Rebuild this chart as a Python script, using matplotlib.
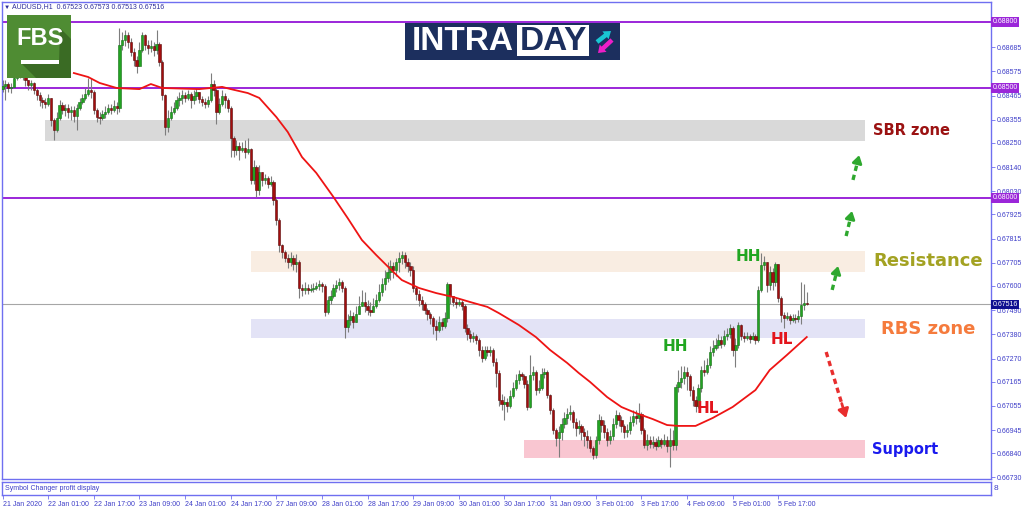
"""
AUDUSD H1 intraday chart (MT4 style) with SBR/RBS zones and MA.
Output: out.png (1024x511)
"""
import numpy as np
import matplotlib
matplotlib.use("Agg")
import matplotlib.pyplot as plt
from matplotlib import patches

plt.rcParams["font.family"] = ["Liberation Sans", "DejaVu Sans"]

# ---- data -------------------------------------------------------------
first_open = 0.68495

closes = [
    0.68509, 0.68518, 0.68500, 0.68505, 0.68545, 0.68564, 0.68573, 0.68555, 0.68536, 0.68514,
    0.68523, 0.68491, 0.68468, 0.68445, 0.68436, 0.68427, 0.68455, 0.68355, 0.68309, 0.68364,
    0.68423, 0.68400, 0.68409, 0.68391, 0.68400, 0.68373, 0.68409, 0.68436, 0.68455, 0.68473,
    0.68491, 0.68482, 0.68400, 0.68368, 0.68364, 0.68382, 0.68391, 0.68409, 0.68400, 0.68418,
    0.68409, 0.68695, 0.68718, 0.68741, 0.68709, 0.68664, 0.68627, 0.68600, 0.68673, 0.68741,
    0.68695, 0.68682, 0.68691, 0.68673, 0.68700, 0.68618, 0.68468, 0.68323, 0.68364, 0.68391,
    0.68409, 0.68445, 0.68455, 0.68468, 0.68455, 0.68473, 0.68445, 0.68464, 0.68482, 0.68450,
    0.68436, 0.68427, 0.68445, 0.68518, 0.68491, 0.68391, 0.68427, 0.68464, 0.68445, 0.68409,
    0.68273, 0.68218, 0.68236, 0.68218, 0.68227, 0.68209, 0.68223, 0.68082, 0.68141, 0.68036,
    0.68118, 0.68082, 0.68091, 0.68064, 0.68073, 0.67991, 0.67900, 0.67786, 0.67755, 0.67727,
    0.67709, 0.67727, 0.67700, 0.67709, 0.67591, 0.67582, 0.67591, 0.67582, 0.67586, 0.67591,
    0.67600, 0.67609, 0.67600, 0.67482, 0.67536, 0.67555, 0.67591, 0.67605, 0.67618, 0.67591,
    0.67414, 0.67445, 0.67464, 0.67436, 0.67473, 0.67509, 0.67527, 0.67509, 0.67491, 0.67482,
    0.67509, 0.67536, 0.67573, 0.67609, 0.67636, 0.67664, 0.67691, 0.67673, 0.67709, 0.67727,
    0.67741, 0.67709, 0.67691, 0.67673, 0.67591, 0.67564, 0.67536, 0.67518, 0.67491, 0.67473,
    0.67455, 0.67418, 0.67400, 0.67436, 0.67418, 0.67455, 0.67609, 0.67555, 0.67527, 0.67518,
    0.67527, 0.67509, 0.67409, 0.67382, 0.67364, 0.67373, 0.67355, 0.67309, 0.67273, 0.67309,
    0.67300, 0.67309, 0.67255, 0.67205, 0.67082, 0.67064, 0.67073, 0.67055, 0.67100, 0.67136,
    0.67173, 0.67200, 0.67191, 0.67155, 0.67050, 0.67195, 0.67209, 0.67127, 0.67136, 0.67200,
    0.67209, 0.67105, 0.67036, 0.66945, 0.66909, 0.66936, 0.66973, 0.67000, 0.67018, 0.67027,
    0.66982, 0.66955, 0.66964, 0.66936, 0.66918, 0.66900, 0.66864, 0.66832, 0.66900, 0.66991,
    0.66968, 0.66936, 0.66900, 0.66918, 0.66973, 0.67014, 0.66991, 0.66964, 0.66936, 0.66945,
    0.66982, 0.67009, 0.67000, 0.67018, 0.66945, 0.66877, 0.66900, 0.66882, 0.66891, 0.66873,
    0.66900, 0.66882, 0.66900, 0.66873, 0.66900, 0.66877, 0.67141, 0.67164, 0.67182, 0.67209,
    0.67191, 0.67127, 0.67082, 0.67055, 0.67136, 0.67218, 0.67209, 0.67241, 0.67300, 0.67318,
    0.67332, 0.67355, 0.67336, 0.67373, 0.67382, 0.67409, 0.67309, 0.67332, 0.67423, 0.67373,
    0.67364, 0.67373, 0.67359, 0.67373, 0.67355, 0.67582, 0.67695, 0.67709, 0.67605, 0.67664,
    0.67618, 0.67700, 0.67545, 0.67468, 0.67455, 0.67464, 0.67445, 0.67455, 0.67450, 0.67464,
    0.67514, 0.67523, 0.67516,
]

highs = [
    0.68536, 0.68536, 0.68527, 0.68523, 0.68582, 0.68591, 0.68600, 0.68582, 0.68564, 0.68536,
    0.68536, 0.68527, 0.68500, 0.68482, 0.68459, 0.68455, 0.68473, 0.68455, 0.68364, 0.68391,
    0.68445, 0.68436, 0.68427, 0.68427, 0.68418, 0.68418, 0.68427, 0.68455, 0.68473, 0.68500,
    0.68545, 0.68545, 0.68491, 0.68409, 0.68391, 0.68400, 0.68418, 0.68427, 0.68427, 0.68445,
    0.68436, 0.68773, 0.68755, 0.68764, 0.68755, 0.68727, 0.68682, 0.68645, 0.68709, 0.68755,
    0.68745, 0.68718, 0.68718, 0.68709, 0.68764, 0.68709, 0.68627, 0.68473, 0.68400, 0.68418,
    0.68436, 0.68464, 0.68482, 0.68491, 0.68482, 0.68491, 0.68482, 0.68491, 0.68500, 0.68482,
    0.68464, 0.68455, 0.68464, 0.68568, 0.68536, 0.68500, 0.68455, 0.68491, 0.68477, 0.68455,
    0.68418, 0.68282, 0.68264, 0.68255, 0.68255, 0.68264, 0.68273, 0.68227, 0.68173, 0.68150,
    0.68150, 0.68118, 0.68109, 0.68100, 0.68100, 0.68082, 0.68000, 0.67909, 0.67791, 0.67764,
    0.67745, 0.67755, 0.67741, 0.67745, 0.67718, 0.67609, 0.67618, 0.67609, 0.67609, 0.67614,
    0.67618, 0.67627, 0.67618, 0.67609, 0.67555, 0.67582, 0.67609, 0.67627, 0.67636, 0.67627,
    0.67600, 0.67473, 0.67491, 0.67482, 0.67509, 0.67555, 0.67582, 0.67573, 0.67536, 0.67527,
    0.67545, 0.67564, 0.67609, 0.67636, 0.67673, 0.67709, 0.67718, 0.67709, 0.67727, 0.67755,
    0.67759, 0.67755, 0.67727, 0.67709, 0.67691, 0.67600, 0.67582, 0.67555, 0.67527, 0.67500,
    0.67482, 0.67464, 0.67445, 0.67464, 0.67455, 0.67482, 0.67618, 0.67609, 0.67555, 0.67545,
    0.67545, 0.67536, 0.67518, 0.67427, 0.67400, 0.67391, 0.67382, 0.67364, 0.67327, 0.67327,
    0.67327, 0.67327, 0.67318, 0.67273, 0.67218, 0.67109, 0.67100, 0.67091, 0.67127, 0.67164,
    0.67200, 0.67218, 0.67209, 0.67200, 0.67173, 0.67286, 0.67236, 0.67218, 0.67173, 0.67227,
    0.67227, 0.67218, 0.67109, 0.67045, 0.66955, 0.66964, 0.67000, 0.67027, 0.67045, 0.67059,
    0.67036, 0.67000, 0.66991, 0.66973, 0.66955, 0.66945, 0.66918, 0.66873, 0.66918, 0.67018,
    0.67009, 0.66991, 0.66955, 0.66945, 0.67000, 0.67036, 0.67027, 0.67009, 0.66973, 0.66973,
    0.67009, 0.67036, 0.67036, 0.67068, 0.67027, 0.66955, 0.66927, 0.66918, 0.66918, 0.66909,
    0.66918, 0.66909, 0.66927, 0.66918, 0.66955, 0.66945, 0.67155, 0.67218, 0.67236, 0.67236,
    0.67232, 0.67200, 0.67145, 0.67100, 0.67155, 0.67236, 0.67264, 0.67273, 0.67327, 0.67355,
    0.67364, 0.67382, 0.67373, 0.67400, 0.67409, 0.67427, 0.67418, 0.67364, 0.67436, 0.67427,
    0.67391, 0.67391, 0.67382, 0.67391, 0.67382, 0.67600, 0.67750, 0.67736, 0.67709, 0.67691,
    0.67682, 0.67709, 0.67700, 0.67555, 0.67482, 0.67482, 0.67473, 0.67473, 0.67473, 0.67491,
    0.67618, 0.67609, 0.67573,
]

lows = [
    0.68482, 0.68445, 0.68482, 0.68477, 0.68518, 0.68536, 0.68545, 0.68536, 0.68509, 0.68491,
    0.68491, 0.68473, 0.68445, 0.68418, 0.68409, 0.68409, 0.68418, 0.68327, 0.68264, 0.68300,
    0.68355, 0.68382, 0.68373, 0.68364, 0.68355, 0.68345, 0.68309, 0.68400, 0.68427, 0.68445,
    0.68464, 0.68455, 0.68382, 0.68345, 0.68336, 0.68355, 0.68364, 0.68382, 0.68382, 0.68391,
    0.68382, 0.68391, 0.68673, 0.68691, 0.68682, 0.68645, 0.68600, 0.68568, 0.68600, 0.68664,
    0.68673, 0.68655, 0.68664, 0.68645, 0.68655, 0.68600, 0.68445, 0.68286, 0.68300, 0.68355,
    0.68382, 0.68400, 0.68418, 0.68427, 0.68436, 0.68445, 0.68409, 0.68427, 0.68445, 0.68432,
    0.68418, 0.68409, 0.68414, 0.68436, 0.68464, 0.68336, 0.68382, 0.68418, 0.68409, 0.68391,
    0.68186, 0.68186, 0.68195, 0.68173, 0.68209, 0.68182, 0.68200, 0.68064, 0.68064, 0.68005,
    0.68014, 0.68055, 0.68064, 0.68045, 0.68055, 0.67968, 0.67877, 0.67755, 0.67727, 0.67709,
    0.67682, 0.67691, 0.67673, 0.67664, 0.67545, 0.67555, 0.67564, 0.67564, 0.67573, 0.67573,
    0.67582, 0.67582, 0.67573, 0.67464, 0.67473, 0.67518, 0.67545, 0.67573, 0.67582, 0.67573,
    0.67364, 0.67391, 0.67423, 0.67409, 0.67436, 0.67482, 0.67509, 0.67482, 0.67468, 0.67464,
    0.67482, 0.67500, 0.67527, 0.67555, 0.67582, 0.67618, 0.67627, 0.67636, 0.67645, 0.67664,
    0.67700, 0.67682, 0.67664, 0.67645, 0.67573, 0.67536, 0.67509, 0.67491, 0.67473, 0.67445,
    0.67427, 0.67382, 0.67355, 0.67391, 0.67400, 0.67409, 0.67436, 0.67518, 0.67509, 0.67500,
    0.67509, 0.67491, 0.67391, 0.67355, 0.67345, 0.67345, 0.67336, 0.67282, 0.67255, 0.67264,
    0.67282, 0.67282, 0.67236, 0.67141, 0.67055, 0.67036, 0.66991, 0.67027, 0.67045, 0.67091,
    0.67127, 0.67155, 0.67173, 0.67136, 0.67036, 0.67045, 0.67173, 0.67105, 0.67114, 0.67127,
    0.67182, 0.67091, 0.67018, 0.66927, 0.66873, 0.66823, 0.66900, 0.66955, 0.66973, 0.66991,
    0.66955, 0.66918, 0.66927, 0.66900, 0.66873, 0.66864, 0.66845, 0.66814, 0.66818, 0.66882,
    0.66936, 0.66909, 0.66873, 0.66882, 0.66900, 0.66955, 0.66964, 0.66936, 0.66909, 0.66914,
    0.66927, 0.66964, 0.66973, 0.66982, 0.66927, 0.66864, 0.66855, 0.66864, 0.66864, 0.66855,
    0.66868, 0.66864, 0.66873, 0.66845, 0.66777, 0.66855, 0.66855, 0.67118, 0.67136, 0.67155,
    0.67127, 0.67100, 0.67055, 0.67027, 0.67045, 0.67118, 0.67191, 0.67200, 0.67227, 0.67282,
    0.67309, 0.67318, 0.67318, 0.67327, 0.67355, 0.67364, 0.67282, 0.67232, 0.67318, 0.67355,
    0.67345, 0.67355, 0.67341, 0.67355, 0.67336, 0.67345, 0.67573, 0.67673, 0.67573, 0.67582,
    0.67582, 0.67600, 0.67527, 0.67436, 0.67409, 0.67445, 0.67427, 0.67436, 0.67432, 0.67436,
    0.67427, 0.67491, 0.67513,
]

# moving average (bar index -> value)
ma_idx = [25, 30, 34, 40, 48, 52, 56, 69, 77, 80, 86, 90, 96, 100, 105, 110, 116, 121,
          126, 131, 137, 140, 146, 152, 158, 164, 170, 174, 181, 187, 192, 198, 202, 206,
          212, 217, 222, 228, 233, 237, 243, 249, 256, 264, 269, 275, 282]
ma_vals = [0.68568, 0.68550, 0.68523, 0.68500, 0.68495, 0.68518, 0.68500, 0.68495, 0.68505,
           0.68495, 0.68477, 0.68455, 0.68368, 0.68300, 0.68186, 0.68114, 0.68005, 0.67909,
           0.67809, 0.67741, 0.67664, 0.67627, 0.67591, 0.67568, 0.67550, 0.67527, 0.67505,
           0.67477, 0.67423, 0.67368, 0.67309, 0.67250, 0.67205, 0.67164, 0.67095, 0.67050,
           0.67023, 0.66995, 0.66968, 0.66964, 0.66964, 0.67000, 0.67050, 0.67127, 0.67218,
           0.67286, 0.67368]

date_labels = ["21 Jan 2020", "22 Jan 01:00", "22 Jan 17:00", "23 Jan 09:00", "24 Jan 01:00",
               "24 Jan 17:00", "27 Jan 09:00", "28 Jan 01:00", "28 Jan 17:00", "29 Jan 09:00",
               "30 Jan 01:00", "30 Jan 17:00", "31 Jan 09:00", "3 Feb 01:00", "3 Feb 17:00",
               "4 Feb 09:00", "5 Feb 01:00", "5 Feb 17:00"]

price_ticks = [0.68685, 0.68575, 0.68465, 0.68355, 0.68250, 0.68140, 0.68030,
               0.67925, 0.67815, 0.67705, 0.67600, 0.67490, 0.67380, 0.67270, 0.67165,
               0.67055, 0.66945, 0.66840, 0.66730]

level_lines = [0.68800, 0.68500, 0.68000]
last_price = 0.67516

zone_names = ["SBR zone", "Resistance", "RBS zone", "Support"]
zone_low = [0.68259, 0.67664, 0.67364, 0.66818]
zone_high = [0.68355, 0.67759, 0.67450, 0.66900]
zone_start = [15, 87, 87, 183]

# ---- figure -----------------------------------------------------------
W, H = 1024, 511


def frect(x0, y0, x1, y1):
    return [x0 / W, 1 - y1 / H, (x1 - x0) / W, (y1 - y0) / H]


fig = plt.figure(figsize=(W / 100, H / 100), dpi=100)
ax = fig.add_axes(frect(2, 2, 991, 479))
sub = fig.add_axes(frect(2, 482, 991, 495))

closes = np.array(closes)
highs = np.array(highs)
lows = np.array(lows)
opens = np.r_[first_open, closes[:-1]]
highs = np.maximum(highs, np.maximum(opens, closes))
lows = np.minimum(lows, np.minimum(opens, closes))
x = np.arange(len(closes))

XLIM = (-0.2, 346.6)
ax.set_xlim(*XLIM)
ax.set_ylim(0.667227, 0.688909)

# zones
zone_colors = ["#d9d9d9", "#f9ede2", "#e3e3f6", "#f9c6d1"]
zone_right = 302.4
for lo, hi, x0, c in zip(zone_low, zone_high, zone_start, zone_colors):
    ax.fill_between([x0, zone_right], lo, hi, color=c, lw=0, zorder=1)

# levels
for v in level_lines:
    ax.axhline(v, color="#9b26d9", lw=1.4, zorder=2)
ax.axhline(last_price, color="#a6a6a6", lw=0.8, zorder=2)

# candles
ax.vlines(x, lows, highs, color="#7d7d7d", lw=0.8, zorder=3)
up = closes >= opens
body = closes - opens
ax.bar(x[up], np.maximum(body[up], 0.000012), bottom=opens[up], width=0.8,
       color="#22a322", edgecolor="#146e14", lw=0.4, zorder=4)
ax.bar(x[~up], body[~up], bottom=opens[~up], width=0.8,
       color="#a30d0d", edgecolor="#5a0a0a", lw=0.4, zorder=4)

# moving average
ax.plot(ma_idx, ma_vals, color="#ee1414", lw=1.3, zorder=5)

# zone labels
zone_text = [(318.8, 0.68309, "#9b1212", 10.5), (324.5, 0.67714, "#a3a222", 13),
             (324.5, 0.67405, "#f57b3d", 13), (316.5, 0.66859, "#1a1aee", 10.5)]
for name, (xt, yt, c, fs) in zip(zone_names, zone_text):
    ax.text(xt, yt, name, color=c, fontsize=fs, fontweight="bold", family="DejaVu Sans",
            ha="center", va="center", zorder=6)

# swing labels
for xi, yi, t, c in [(235.8, 0.67323, "HH", "#21a621"), (261.4, 0.67732, "HH", "#21a621"),
                     (247.4, 0.67045, "HL", "#e3141c"), (273.3, 0.67359, "HL", "#e3141c")]:
    ax.text(xi, yi, t, color=c, fontsize=11, fontweight="bold", family="DejaVu Sans",
            ha="center", va="center", zorder=6)


# dashed arrows
def dashed_arrow(x0, y0, x1, y1, color, hw=0.3):
    fx = x0 + (x1 - x0) * 0.78
    fy = y0 + (y1 - y0) * 0.78
    ax.plot([x0, fx], [y0, fy], color=color, lw=2.4, ls=(0, (1.6, 1.2)), zorder=6,
            solid_capstyle="butt")
    ax.annotate("", xy=(x1, y1), xytext=(fx, fy),
                arrowprops=dict(arrowstyle=f"-|>,head_width={hw},head_length={hw * 1.6}",
                                color=color, lw=2.0, shrinkA=0, shrinkB=0), zorder=6)


dashed_arrow(290.9, 0.67582, 293.0, 0.67691, "#2ea82e", 0.28)
dashed_arrow(295.8, 0.67827, 297.9, 0.67941, "#2ea82e", 0.28)
dashed_arrow(298.2, 0.68082, 300.4, 0.68195, "#2ea82e", 0.28)
dashed_arrow(288.8, 0.67300, 295.8, 0.67000, "#e82e2e", 0.32)

# axes styling
axis_c = "#6f6ff0"
lab_c = "#3d3dc8"
for a in (ax, sub):
    for s in a.spines.values():
        s.set_color(axis_c)
        s.set_linewidth(1.0)
ax.set_xticks([])
ax.yaxis.tick_right()
ax.set_yticks(price_ticks)
ax.set_yticklabels([f"{v:.5f}" for v in price_ticks])
ax.tick_params(axis="y", direction="out", length=3, width=0.6, pad=1, labelsize=5,
               colors=axis_c, labelcolor=lab_c)

for v, fc in [(0.68800, "#9b26d9"), (0.68500, "#9b26d9"), (0.68000, "#9b26d9"),
              (last_price, "#101090")]:
    ax.text(1.0015, v, f"{v:.5f}", transform=ax.get_yaxis_transform(), ha="left",
            va="center", fontsize=5, color="white", clip_on=False, zorder=10,
            bbox=dict(boxstyle="square,pad=0.18", fc=fc, ec="none"))

sub.set_xlim(*XLIM)
sub.set_ylim(0, 1)
sub.set_yticks([])
sub.set_xticks(np.arange(len(date_labels)) * 16)
sub.set_xticklabels(date_labels, ha="left")
sub.tick_params(axis="x", direction="out", length=3, width=0.6, pad=1.5, labelsize=5,
                colors=axis_c, labelcolor=lab_c)
sub.text(0.003, 0.5, "Symbol Changer profit display", transform=sub.transAxes,
         fontsize=5, color=lab_c, va="center", ha="left")
sub.text(1.003, 0.5, "8", transform=sub.transAxes, fontsize=6, color=lab_c,
         va="center", ha="left")

# header
fig.text(4 / W, 1 - 7 / H, "\u25bc", fontsize=4.5, color="#2b2b9a", va="center")
fig.text(12 / W, 1 - 7 / H, "AUDUSD,H1  0.67523 0.67573 0.67513 0.67516", fontsize=5,
         color="#2b2b9a", va="center")

# FBS logo
lg = fig.add_axes(frect(7, 15, 71, 78))
lg.set_xlim(0, 64)
lg.set_ylim(63, 0)
lg.axis("off")
lg.add_patch(patches.Rectangle((0, 0), 64, 63, fc="#4f8c33", ec="none"))
lg.add_patch(patches.Polygon([(53, 13), (64, 24), (64, 63), (29, 63), (15, 49), (52, 49)],
                             fc="#3a6b24", ec="none"))
lg.text(33.5, 23, "FBS", color="white", fontsize=17, fontweight="bold",
        ha="center", va="center")
lg.add_patch(patches.Rectangle((14, 45), 38, 4, fc="white", ec="none"))

# INTRADAY logo
it = fig.add_axes(frect(405, 23, 620, 60))
it.set_xlim(0, 215)
it.set_ylim(37, 0)
it.axis("off")
it.add_patch(patches.Rectangle((0, 0), 215, 37, fc="#1c2f5e", ec="none"))
it.add_patch(patches.Rectangle((112, 2), 72, 31, fc="white", ec="none"))
it.text(7, 18.5, "INTRA", color="white", fontsize=24, fontweight="bold",
        ha="left", va="center")
it.text(148, 18.5, "DAY", color="#1c2f5e", fontsize=24, fontweight="bold",
        ha="center", va="center")
it.add_patch(patches.FancyArrow(192, 19, 14, -11, width=4.5, head_width=10, head_length=7,
                                length_includes_head=True, fc="#19c6d2", ec="none"))
it.add_patch(patches.FancyArrow(207, 17, -14, 13, width=4.5, head_width=10, head_length=7,
                                length_includes_head=True, fc="#ee1ec8", ec="none"))

fig.savefig("out.png", dpi=100)
